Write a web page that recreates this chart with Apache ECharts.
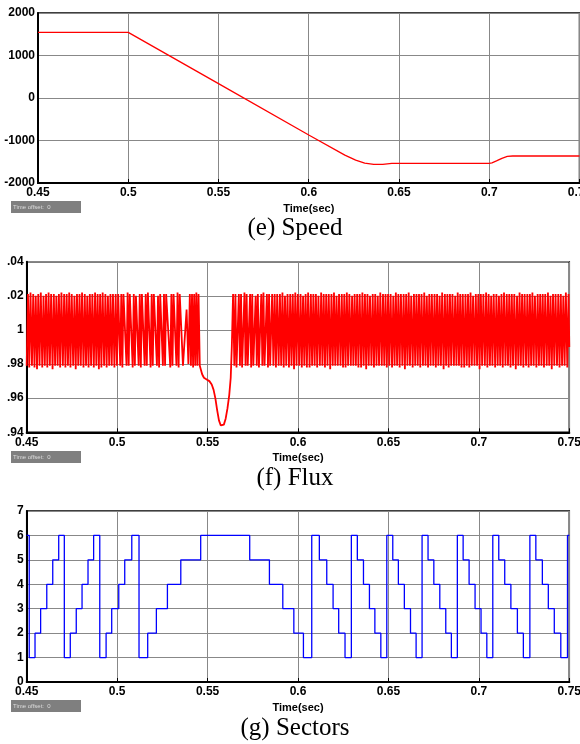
<html>
<head>
<meta charset="utf-8" />
<title>Speed, Flux, Sectors</title>
<script type="text/javascript" src="https://cdn.jsdelivr.net/npm/echarts/dist/echarts.min.js"></script>
<style>
  html, body { margin: 0; padding: 0; background: #fff; }
  #main { width: 580px; height: 744px; }
</style>
</head>
<body>
<div id="main"></div>
<script type="text/javascript">
// (e) speed, rpm
var speedT = [0.45, 0.5, 0.55, 0.6, 0.62, 0.626, 0.631, 0.636, 0.641, 0.646, 0.65, 0.7, 0.7015, 0.704, 0.707, 0.71, 0.713, 0.75];
var speedV = [1545, 1545, 339, -870, -1345, -1460, -1530, -1562, -1562, -1540, -1537, -1537, -1525, -1480, -1420, -1375, -1365, -1365];

// (f) flux, turning points [ms, Wb]
var fluxA = [
  [450.0,.979],[450.7,1.021],[451.4,.978],[452.1,1.022],[452.9,.979],[453.6,1.021],[454.3,.978],[455.0,1.02],
  [455.7,.977],[456.4,1.021],[457.1,.979],[457.8,1.022],[458.6,.978],[459.3,1.02],[460.0,.979],[460.7,1.021],
  [461.4,.978],[462.1,1.022],[462.8,.979],[463.5,1.021],[464.3,.977],[465.0,1.021],[465.7,.979],[466.4,1.02],
  [467.1,.979],[467.8,1.021],[468.5,.978],[469.2,1.022],[470.0,.979],[470.7,1.021],[471.4,.978],[472.1,1.021],
  [472.8,.979],[473.5,1.022],[474.2,.978],[474.9,1.021],[475.7,.979],[476.4,1.02],[477.1,.977],[477.8,1.021],
  [478.5,.979],[479.2,1.021],[479.9,.979],[480.6,1.022],[481.4,.978],[482.1,1.021],[482.8,.979],[483.5,1.02],
  [484.2,.978],[484.9,1.021],[485.6,.979],[486.3,1.021],[487.1,.978],[487.8,1.022],[488.5,.979],[489.2,1.021],
  [489.9,.977],[490.6,1.021],[491.3,.978],[492.0,1.022],[492.8,.979],[493.5,1.021],[494.2,.978],[494.9,1.02],
  [495.6,.979],[496.3,1.021],[497.0,.979],[497.7,1.021],[498.5,.978],[499.2,1.021],[499.9,.979],[500.6,1.021]
];
var fluxB = [
  [501.7,.979],[502.3,1.021],[502.9,.978],[503.5,1.021],[505.2,.979],[505.8,1.022],[506.4,.979],[507.0,1.021],
  [508.6,.978],[509.2,1.021],[509.8,.979],[510.4,1.02],[511.9,.979],[512.5,1.021],[513.1,.978],[513.7,1.021],
  [515.2,.979],[515.8,1.021],[516.4,.979],[517.0,1.022],[518.5,.978],[519.1,1.021],[519.7,.979],[520.3,1.021],
  [522.0,.979],[522.6,1.02],[523.2,.978],[523.8,1.021],[525.3,.979],[525.9,1.021],[526.5,.979],[527.1,1.021],
  [529.4,.978],[530.0,1.021],[530.6,.979],[531.2,1.021],[532.8,.979],[533.4,1.022],[534.0,.978],[534.6,1.021],
  [536.4,.979],[538.4,1.012],[539.4,.98],[540.2,1.021],[540.8,.979],[541.4,1.021],[542.0,.978],[542.6,1.021],
  [543.2,.979],[543.8,1.022],[544.4,.979],[545.0,1.021]
];
var fluxDip = [
  [545.7,.979],[547.0,.974],[548.0,.972],[549.5,.971],[551.0,.970],[552.3,.968],[553.3,.965],[554.3,.960],
  [555.3,.953],[556.3,.947],[557.3,.944],[558.0,.9435],[559.0,.9445],[560.0,.948],[561.0,.954],[562.0,.962],
  [562.8,.972],[563.4,.99],[564.1,1.021]
];
var fluxC = [
  [564.8,.979],[565.4,1.021],[566.0,.978],[567.3,1.021],[567.9,.979],[568.5,1.021],[569.1,.978],[570.4,1.022],
  [571.0,.979],[571.6,1.021],[572.2,.979],[573.5,1.021],[574.1,.978],[574.7,1.021],[575.3,.979],[576.6,1.02],
  [577.2,.979],[577.8,1.021],[578.4,.978],[579.7,1.021],[580.3,.979],[580.9,1.022],[581.5,.979],[582.8,1.021],
  [583.4,.978],[584.0,1.021],[584.6,.979],[585.7,1.021]
];
var fluxD = [
  [586.4,.979],[587.1,1.021],[587.8,.978],[588.5,1.021],[589.3,.979],[590.0,1.021],[590.7,.979],[591.4,1.022],
  [592.1,.978],[592.8,1.02],[593.5,.979],[594.2,1.021],[595.0,.978],[595.7,1.021],[596.4,.979],[597.1,1.021],
  [597.8,.977],[598.5,1.022],[599.2,.979],[599.9,1.021],[600.7,.979],[601.4,1.021],[602.1,.978],[602.8,1.02],
  [603.5,.979],[604.2,1.021],[604.9,.978],[605.6,1.022],[606.4,.978],[607.1,1.021],[607.8,.979],[608.5,1.021],
  [609.2,.979],[609.9,1.021],[610.6,.978],[611.3,1.02],[612.1,.979],[612.8,1.022],[613.5,.979],[614.2,1.021],
  [614.9,.978],[615.6,1.021],[616.3,.979],[617.0,1.021],[617.8,.977],[618.5,1.021],[619.2,.979],[619.9,1.022],
  [620.6,.979],[621.3,1.02],[622.0,.979],[622.7,1.021],[623.5,.979],[624.2,1.021],[624.9,.978],[625.6,1.021],
  [626.3,.978],[627.0,1.022],[627.7,.979],[628.4,1.021],[629.2,.979],[629.9,1.02],[630.6,.979],[631.3,1.021],
  [632.0,.979],[632.7,1.021],[633.4,.978],[634.1,1.021],[634.9,.978],[635.6,1.022],[636.3,.979],[637.0,1.021],
  [637.7,.977],[638.4,1.021],[639.1,.979],[639.8,1.02],[640.6,.979],[641.3,1.021],[642.0,.978],[642.7,1.021],
  [643.4,.979],[644.1,1.02],[644.8,.979],[645.5,1.022],[646.3,.979],[647.0,1.021],[647.7,.979],[648.4,1.021],
  [649.1,.978],[649.8,1.021],[650.5,.979],[651.2,1.021],[652.0,.978],[652.7,1.02],[653.4,.979],[654.1,1.022],
  [654.8,.979],[655.5,1.021],[656.2,.978],[656.9,1.021],[657.7,.979],[658.4,1.021],[659.1,.977],[659.8,1.021],
  [660.5,.979],[661.2,1.022],[661.9,.979],[662.6,1.02],[663.4,.978],[664.1,1.021],[664.8,.979],[665.5,1.021],
  [666.2,.979],[666.9,1.021],[667.6,.978],[668.3,1.021],[669.1,.979],[669.8,1.022],[670.5,.979],[671.2,1.02],
  [671.9,.978],[672.6,1.021],[673.3,.979],[674.0,1.021],[674.8,.979],[675.5,1.021],[676.2,.978],[676.9,1.021],
  [677.6,.979],[678.3,1.02],[679.0,.979],[679.7,1.022],[680.5,.977],[681.2,1.021],[681.9,.979],[682.6,1.021],
  [683.3,.978],[684.0,1.021],[684.7,.979],[685.4,1.021],[686.2,.979],[686.9,1.02],[687.6,.979],[688.3,1.022],
  [689.0,.979],[689.7,1.021],[690.4,.978],[691.1,1.021],[691.9,.978],[692.6,1.021],[693.3,.979],[694.0,1.021],
  [694.7,.978],[695.4,1.022],[696.1,.979],[696.8,1.02],[697.6,.979],[698.3,1.021],[699.0,.979],[699.7,1.021],
  [700.4,.977],[701.1,1.021],[701.8,.979],[702.5,1.021],[703.3,.979],[704.0,1.022],[704.7,.978],[705.4,1.021],
  [706.1,.979],[706.8,1.02],[707.5,.979],[708.2,1.021],[709.0,.978],[709.7,1.021],[710.4,.979],[711.1,1.02],
  [711.8,.979],[712.5,1.021],[713.2,.978],[713.9,1.022],[714.7,.979],[715.4,1.021],[716.1,.979],[716.8,1.021],
  [717.5,.978],[718.2,1.021],[718.9,.979],[719.6,1.021],[720.4,.977],[721.1,1.02],[721.8,.979],[722.5,1.022],
  [723.2,.979],[723.9,1.021],[724.6,.978],[725.3,1.021],[726.1,.979],[726.8,1.021],[727.5,.978],[728.2,1.021],
  [728.9,.979],[729.6,1.022],[730.3,.979],[731.0,1.02],[731.8,.978],[732.5,1.021],[733.2,.979],[733.9,1.021],
  [734.6,.979],[735.3,1.021],[736.0,.978],[736.7,1.021],[737.5,.979],[738.2,1.022],[738.9,.979],[739.6,1.02],
  [740.3,.977],[741.0,1.021],[741.7,.979],[742.4,1.021],[743.2,.979],[743.9,1.021],[744.6,.978],[745.3,1.021],
  [746.0,.979],[746.7,1.02],[747.4,.979],[748.1,1.022],[748.9,.978],[749.6,1.021],[750.0,.99]
];

// (g) sector number, switching instants (s)
var sectorT = [0.45, 0.4514, 0.4546, 0.4577, 0.4611, 0.4644, 0.4677, 0.4708, 0.4741, 0.4774, 0.4806, 0.4839, 0.4870,
  0.4904, 0.4939, 0.4970, 0.5009, 0.5042, 0.5081, 0.5121, 0.5169, 0.5217, 0.5278, 0.5352, 0.5462, 0.5733, 0.5842,
  0.5916, 0.5977, 0.6030, 0.6076, 0.6118, 0.6159, 0.6194, 0.6225, 0.6260, 0.6295, 0.6328, 0.6362, 0.6395, 0.6425,
  0.6458, 0.6491, 0.6524, 0.6555, 0.6588, 0.6622, 0.6653, 0.6686, 0.6719, 0.6751, 0.6784, 0.6817, 0.6848, 0.6881,
  0.6913, 0.6946, 0.6979, 0.7012, 0.7044, 0.7077, 0.7110, 0.7143, 0.7177, 0.7213, 0.7246, 0.7282, 0.7315, 0.7351,
  0.7384, 0.7417, 0.7453, 0.7490, 0.75];
var sectorV = [6, 1, 2, 3, 4, 5, 6, 1, 2, 3, 4, 5, 6,
  1, 2, 3, 4, 5, 6, 1, 2, 3, 4, 5, 6, 5, 4,
  3, 2, 1, 6, 5, 4, 3, 2, 1, 6, 5, 4, 3, 2,
  1, 6, 5, 4, 3, 2, 1, 6, 5, 4, 3, 2, 1, 6,
  5, 4, 3, 2, 1, 6, 5, 4, 3, 2, 1, 6, 5, 4,
  3, 2, 1, 6, 6];

var captions = ['(e) Speed', '(f) Flux', '(g) Sectors'];

var labelFont = "'Liberation Sans Narrow', 'Arial Narrow', 'Liberation Sans', sans-serif";
var capFont = "'Liberation Serif', 'Times New Roman', serif";

var gridPos = [
  {left: 38, top: 13, width: 541.5, height: 170},
  {left: 26.7, top: 261.7, width: 542.6, height: 170.6},
  {left: 26.7, top: 511, width: 542.6, height: 171}
];

var fluxData = fluxA.concat(fluxB, fluxDip, fluxC, fluxD).map(function (p) { return [p[0] / 1000, p[1]]; });
var speedData = speedT.map(function (t, i) { return [t, speedV[i]]; });
var sectorData = sectorT.map(function (t, i) { return [t, sectorV[i]]; });

function xAx(i) {
  return {
    type: 'value', gridIndex: i, min: 0.45, max: 0.75, interval: 0.05,
    name: 'Time(sec)', nameLocation: 'middle', nameGap: 20,
    nameTextStyle: {fontFamily: labelFont, fontWeight: 'bold', fontSize: 11, color: '#000'},
    axisLine: {show: true, onZero: false, lineStyle: {color: '#000', width: 2}},
    axisTick: {show: true, inside: true, length: 4, lineStyle: {color: '#000'}},
    axisLabel: {fontFamily: labelFont, fontWeight: 'bold', fontSize: 12, color: '#000', margin: 4,
      formatter: function (v) { return String(+v.toFixed(2)); }},
    splitLine: {show: true, lineStyle: {color: '#888', width: 1}}
  };
}
function yAx(i, min, max, step, fmt) {
  return {
    type: 'value', gridIndex: i, min: min, max: max, interval: step,
    axisLine: {show: true, onZero: false, lineStyle: {color: '#000', width: 2}},
    axisTick: {show: false},
    axisLabel: {fontFamily: labelFont, fontWeight: 'bold', fontSize: 12, color: '#000', margin: 3,
      formatter: fmt || function (v) { return String(v); }},
    splitLine: {show: true, lineStyle: {color: '#888', width: 1}}
  };
}

function offsetBox(y) {
  return {
    type: 'group', left: 11, top: y,
    children: [
      {type: 'rect', shape: {x: 0, y: 0, width: 70, height: 12}, style: {fill: '#7f7f7f'}},
      {type: 'text', x: 2, y: 3, style: {text: 'Time offset:  0', fill: '#dcdcdc', font: '6px sans-serif'}}
    ]
  };
}

var chart = echarts.init(document.getElementById('main'), null, {renderer: 'canvas'});
chart.setOption({
  animation: false,
  backgroundColor: '#fff',
  grid: gridPos.map(function (g) {
    return {left: g.left, top: g.top, width: g.width, height: g.height, show: true,
      outerBoundsMode: 'none', containLabel: false,
      borderColor: '#000', borderWidth: 1.5, backgroundColor: '#fff'};
  }),
  xAxis: [xAx(0), xAx(1), xAx(2)],
  yAxis: [
    yAx(0, -2000, 2000, 1000),
    yAx(1, 0.94, 1.04, 0.02, function (v) {
      var n = Math.round(v * 100);
      return n === 100 ? '1' : '.' + String(n % 100).padStart(2, '0');
    }),
    yAx(2, 0, 7, 1)
  ],
  title: captions.map(function (c, i) {
    return {text: c, left: 295, top: [216, 466, 716][i], textAlign: 'center', padding: 0,
      textStyle: {fontFamily: capFont, fontSize: 25, fontWeight: 'normal', color: '#000'}};
  }),
  graphic: [offsetBox(201), offsetBox(451), offsetBox(700)],
  series: [
    {type: 'line', xAxisIndex: 0, yAxisIndex: 0, data: speedData, showSymbol: false,
      lineStyle: {color: '#ff0000', width: 1.3}},
    {type: 'line', xAxisIndex: 1, yAxisIndex: 1, data: fluxData, showSymbol: false, sampling: null,
      lineStyle: {color: '#ff0000', width: 1.8}},
    {type: 'line', xAxisIndex: 2, yAxisIndex: 2, data: sectorData, showSymbol: false, step: 'end',
      lineStyle: {color: '#0000ff', width: 1.3}}
  ]
});
</script>
</body>
</html>
